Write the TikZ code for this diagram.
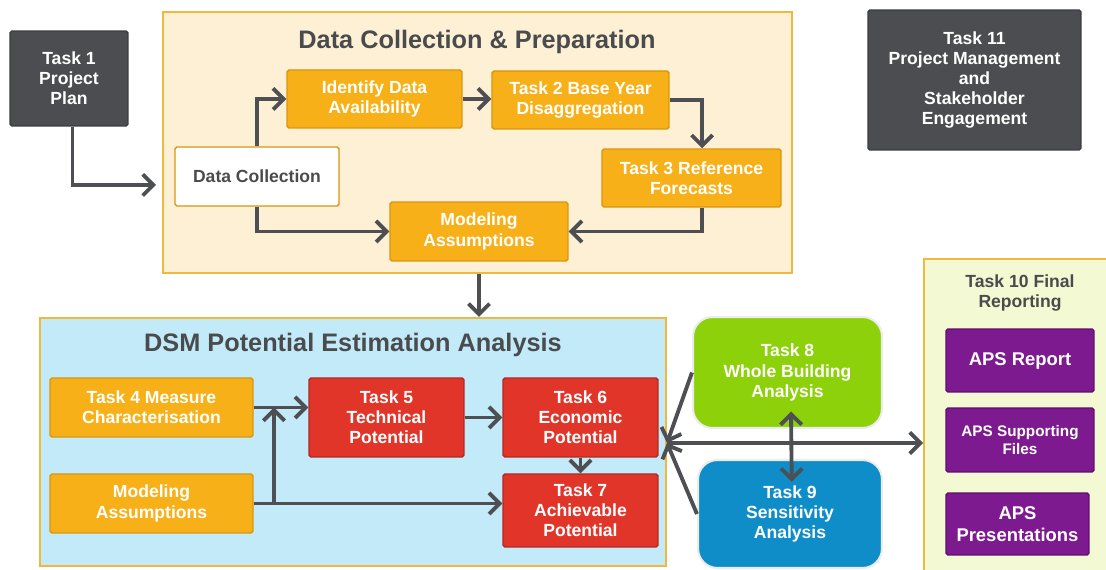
\documentclass[tikz,border=0pt]{standalone}
\usepackage{fontspec}
\setmainfont{Liberation Sans}
\usetikzlibrary{arrows.meta}

\definecolor{slate}{HTML}{4B4D50}
\definecolor{slatedark}{HTML}{3A3C3E}
\definecolor{amber}{HTML}{F8B019}
\definecolor{amberdark}{HTML}{D8960F}
\definecolor{peach}{HTML}{FEF0D5}
\definecolor{gold}{HTML}{F0B83C}
\definecolor{skyblue}{HTML}{C3EAF9}
\definecolor{redbox}{HTML}{E2352A}
\definecolor{reddark}{HTML}{B5261F}
\definecolor{leaf}{HTML}{8DD10A}
\definecolor{ocean}{HTML}{0E8DC8}
\definecolor{limepale}{HTML}{F3F9D3}
\definecolor{plum}{HTML}{7E1A8F}
\definecolor{plumdark}{HTML}{5E0F6C}
\definecolor{arrowgray}{HTML}{4D4F52}
\definecolor{titlegray}{HTML}{4A4B4D}

\begin{document}
\begin{tikzpicture}[x=0.02cm, y=-0.02cm,
  box/.style={draw, rounded corners=1pt, line width=0.8pt, align=center, text=white, inner sep=2pt,
    font=\bfseries\fontsize{10}{11.5}\selectfont},
  darkbox/.style={box, fill=slate, draw=slatedark},
  orangebox/.style={box, fill=amber, draw=amberdark},
  redbox/.style={box, fill=redbox, draw=reddark, minimum width=3.1cm},
  roundbox/.style={box, rounded corners=11pt, draw=white!85!gray, line width=1.2pt},
  plumbox/.style={box, fill=plum, draw=plumdark},
  panel/.style={draw=gold, line width=1.2pt},
  title/.style={font=\bfseries\fontsize{14.4}{16}\selectfont, text=titlegray},
  arrow/.style={-{Straight Barb[length=6pt,width=12pt]}, line width=2.2pt, draw=arrowgray}
]
\useasboundingbox (0,0) rectangle (1106,570);

% panels
\node[panel, fill=peach, minimum width=12.58cm, minimum height=5.22cm] (dcp) at (477.5,142.5) {};
\node[panel, fill=skyblue, minimum width=12.52cm, minimum height=4.96cm] (dsm) at (353,442) {};
\node[panel, fill=limepale, minimum width=4cm, minimum height=6.5cm, anchor=north west] (rep) at (923,258) {};
\node[title] (dcptitle) at (477,42) {Data Collection \& Preparation};
\node[title] (dsmtitle) at (353,345) {DSM Potential Estimation Analysis};
\node[title, align=center, font=\bfseries\fontsize{10}{11.5}\selectfont] (reptitle) at (1020,293) {Task 10 Final\\Reporting};

% tasks outside the panels
\node[darkbox, minimum width=2.36cm, minimum height=1.9cm] (t1) at (69,78.5) {Task 1\\Project\\Plan};
\node[darkbox, minimum width=4.26cm, minimum height=2.8cm] (t11) at (974.5,80) {Task 11\\Project Management\\and\\Stakeholder\\Engagement};

% data collection
\node[box, fill=white, draw=amberdark, text=titlegray, minimum width=3.28cm, minimum height=1.18cm] (dc) at (257,176.5) {Data Collection};
\node[orangebox, minimum width=3.5cm, minimum height=1.16cm] (ida) at (374.5,99) {Identify Data\\Availability};
\node[orangebox, minimum width=3.54cm, minimum height=1.16cm] (t2) at (580.5,100) {Task 2 Base Year\\Disaggregation};
\node[orangebox, minimum width=3.58cm, minimum height=1.16cm] (t3) at (691.5,178) {Task 3 Reference\\Forecasts};
\node[orangebox, minimum width=3.56cm, minimum height=1.18cm] (mt) at (479,231.5) {Modeling\\Assumptions};

% potential estimation
\node[orangebox, minimum width=4.06cm, minimum height=1.18cm] (t4) at (151.5,407.5) {Task 4 Measure\\Characterisation};
\node[orangebox, minimum width=4.06cm, minimum height=1.18cm] (ml) at (151.5,503.5) {Modeling\\Assumptions};
\node[redbox, minimum height=1.58cm] (t5) at (386.5,417.5) {Task 5\\Technical\\Potential};
\node[redbox, minimum height=1.58cm] (t6) at (580.5,417.5) {Task 6\\Economic\\Potential};
\node[redbox, minimum height=1.46cm] (t7) at (580.5,510.5) {Task 7\\Achievable\\Potential};

% side analyses
\node[roundbox, fill=leaf, minimum width=3.78cm, minimum height=2.22cm] (t8) at (787.5,372.5) {Task 8\\Whole Building\\Analysis};
\node[roundbox, fill=ocean, minimum width=3.68cm, minimum height=2.16cm] (t9) at (790,514) {Task 9\\Sensitivity\\Analysis};

% reporting
\node[plumbox, minimum width=2.96cm, minimum height=1.26cm, font=\bfseries\fontsize{10.5}{12.5}\selectfont] (aps1) at (1020,360.5) {APS Report};
\node[plumbox, minimum width=2.96cm, minimum height=1.28cm, font=\bfseries\fontsize{8.7}{10.5}\selectfont] (aps2) at (1020,440) {APS Supporting\\Files};
\node[plumbox, minimum width=2.86cm, minimum height=1.24cm, font=\bfseries\fontsize{10.5}{12.5}\selectfont] (aps3) at (1017.5,524) {APS\\Presentations};

% connectors
\coordinate (in1) at (156,185);
\coordinate (jn) at (274,503.5);
\coordinate (hub) at (667,443);
\draw[arrow] ([xshift=2pt]t1.south) |- (in1);
\draw[arrow] (dc.north) |- (ida.west);
\draw[arrow] (dc.south) |- (mt.west);
\draw[arrow] (ida.east) -- (ida.east -| t2.west);
\draw[arrow] (t2.east) -| ([xshift=6pt]t3.north);
\draw[arrow] ([xshift=6pt]t3.south) |- (mt.east);
\draw[arrow] (mt.south |- dcp.south) -- (mt.south |- dsm.north);
\draw[arrow] (t4.east) -- (t4.east -| t5.west);
\draw[arrow] (ml.east) -- (ml.east -| t7.west);
\draw[arrow] (jn) -- (jn |- t4.east);
\draw[arrow] (t5.east) -- (t5.east -| t6.west);
\draw[arrow] (t6.south) -- (t7.north);
\draw[arrow] (t8.west) -- (hub);
\draw[arrow] (t9.west) -- (hub);
\draw[arrow] (hub) -- (hub -| rep.west);
\draw[arrow, {Straight Barb[length=6pt,width=12pt]}-{Straight Barb[length=6pt,width=12pt]}] ([xshift=2pt,yshift=10pt]t8.south) -- ([xshift=1pt,yshift=-13pt]t9.north);
\end{tikzpicture}
\end{document}
